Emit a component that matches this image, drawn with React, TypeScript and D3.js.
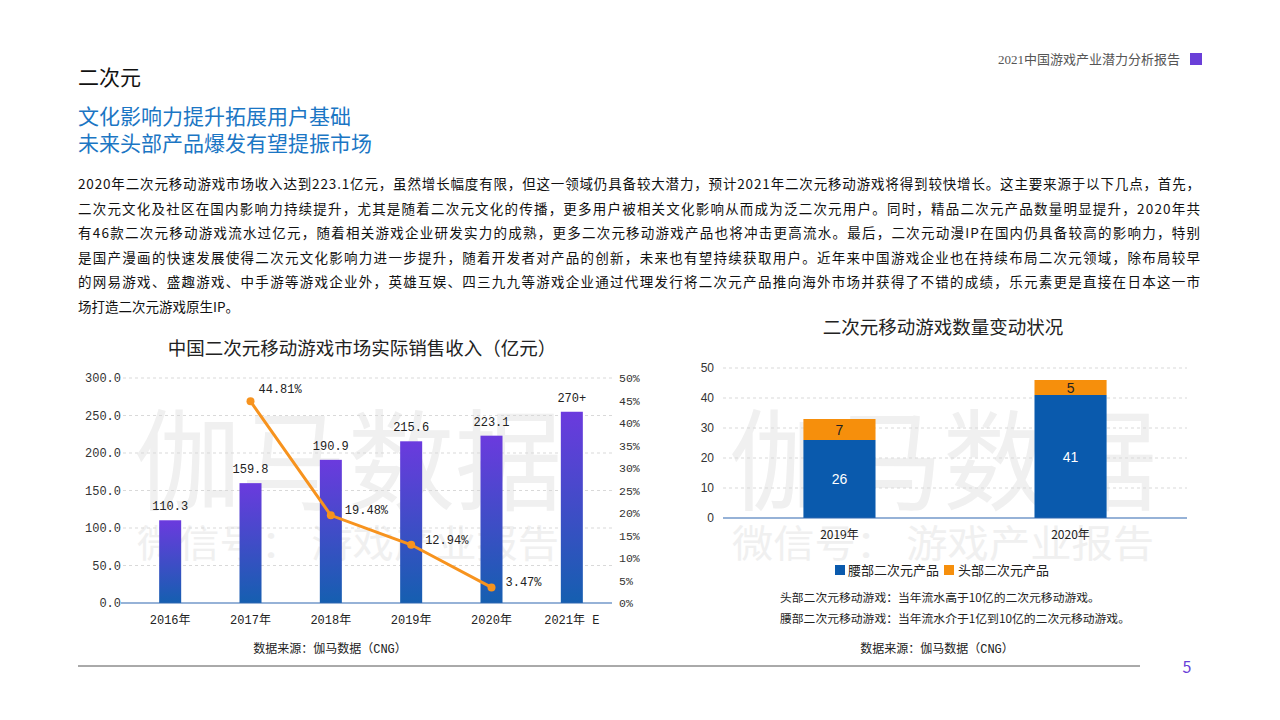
import React from "react";
import * as d3 from "d3";

const years = ["2016年", "2017年", "2018年", "2019年", "2020年", "2021年 E"];
const revenue = [110.3, 159.8, 190.9, 215.6, 223.1, 255];
const revenueLabels = ["110.3", "159.8", "190.9", "215.6", "223.1", "270+"];
const growthYears = ["2017年", "2018年", "2019年", "2020年"];
const growth = [0.4481, 0.1948, 0.1294, 0.0347];
const growthLabels = ["44.81%", "19.48%", "12.94%", "3.47%"];
const leftTicks = [0, 50, 100, 150, 200, 250, 300];
const rightTicks = [0, 0.05, 0.1, 0.15, 0.2, 0.25, 0.3, 0.35, 0.4, 0.45, 0.5];

const countYears = ["2019年", "2020年"];
const waistCounts = [26, 41];
const headCounts = [7, 5];
const countTicks = [0, 10, 20, 30, 40, 50];
const seriesNames = ["腰部二次元产品", "头部二次元产品"];

const paragraph = [
  "2020年二次元移动游戏市场收入达到223.1亿元，虽然增长幅度有限，但这一领域仍具备较大潜力，预计2021年二次元移动游戏将得到较快增长。这主要来源于以下几点，首先，",
  "二次元文化及社区在国内影响力持续提升，尤其是随着二次元文化的传播，更多用户被相关文化影响从而成为泛二次元用户。同时，精品二次元产品数量明显提升，2020年共",
  "有46款二次元移动游戏流水过亿元，随着相关游戏企业研发实力的成熟，更多二次元移动游戏产品也将冲击更高流水。最后，二次元动漫IP在国内仍具备较高的影响力，特别",
  "是国产漫画的快速发展使得二次元文化影响力进一步提升，随着开发者对产品的创新，未来也有望持续获取用户。近年来中国游戏企业也在持续布局二次元领域，除布局较早",
  "的网易游戏、盛趣游戏、中手游等游戏企业外，英雄互娱、四三九九等游戏企业通过代理发行将二次元产品推向海外市场并获得了不错的成绩，乐元素更是直接在日本这一市",
  "场打造二次元游戏原生IP。",
];

const CJK = "'Noto Sans CJK SC', 'Noto Sans', sans-serif";
const MONO = "'Liberation Mono', 'Noto Sans CJK SC', monospace";
const PURPLE = "#6a3fd8";
const ORANGE = "#f7931e";
const BLUE = "#0a5aad";
const ORANGE2 = "#f68f0c";

function Watermark({ x }: { x: number }) {
  return (
    <g fill="#f0f0f0" fontFamily={CJK}>
      <text x={x} y={502} fontSize={110} textAnchor="middle" textLength={428} lengthAdjust="spacingAndGlyphs">伽马数据</text>
      <text x={x} y={557} fontSize={38} textAnchor="middle" textLength={422} lengthAdjust="spacingAndGlyphs">微信号： 游戏产业报告</text>
    </g>
  );
}

function LeftChart() {
  const x = d3.scaleBand<string>().domain(years).range([119, 623]).paddingInner(0.726).paddingOuter(0.5);
  const y = d3.scaleLinear().domain([0, 300]).range([603, 378]);
  const y2 = d3.scaleLinear().domain([0, 0.5]).range([603, 378]);
  const cx = (k: string) => (x(k) as number) + x.bandwidth() / 2;
  const line = d3
    .line<number>()
    .x((_, i) => cx(growthYears[i]))
    .y((d) => y2(d));
  return (
    <g>
      <defs>
        <linearGradient id="barGrad" x1="0" y1="0" x2="0" y2="1">
          <stop offset="0%" stopColor="#6b3ade" />
          <stop offset="100%" stopColor="#155fb0" />
        </linearGradient>
      </defs>
      <text x={362} y={355} fontSize={18.5} fontFamily={CJK} textAnchor="middle" fill="#222">中国二次元移动游戏市场实际销售收入（亿元）</text>
      <Watermark x={348} />
      {leftTicks.filter((t) => t > 0).map((t) => (
        <line key={t} x1={123} x2={612} y1={y(t)} y2={y(t)} stroke="#d9d9d9" strokeDasharray="3,3" />
      ))}
      {leftTicks.map((t) => (
        <text key={t} x={121} y={y(t) + 4} fontSize={12} fontFamily={MONO} textAnchor="end" fill="#333">{t.toFixed(1)}</text>
      ))}
      {rightTicks.map((t) => (
        <text key={t} x={619} y={y2(t) + 4} fontSize={11.5} fontFamily={MONO} fill="#333">{Math.round(t * 100) + "%"}</text>
      ))}
      {years.map((k, i) => (
        <g key={k}>
          <rect x={x(k)} y={y(revenue[i])} width={x.bandwidth()} height={603 - y(revenue[i])} fill="url(#barGrad)" />
          <text x={cx(k)} y={y(revenue[i]) - 10} fontSize={12} fontFamily={MONO} textAnchor="middle" fill="#222">{revenueLabels[i]}</text>
          <text x={cx(k)} y={624} fontSize={12} fontFamily={MONO} textAnchor="middle" fill="#222">{k}</text>
        </g>
      ))}
      <line x1={121} x2={612} y1={603} y2={603} stroke="#2f67b0" strokeWidth={1.2} />
      <path d={line(growth) || ""} fill="none" stroke={ORANGE} strokeWidth={3} />
      {growth.map((g, i) => (
        <g key={i}>
          <circle cx={cx(growthYears[i])} cy={y2(g)} r={4} fill={ORANGE} />
          <text
            x={cx(growthYears[i]) + (i === 0 ? 8 : 14)}
            y={y2(g) + (i === 0 ? -8 : -1)}
            fontSize={12}
            fontFamily={MONO}
            fill="#222"
          >
            {growthLabels[i]}
          </text>
        </g>
      ))}
      <text x={330} y={653} fontSize={12} fontFamily={MONO} textAnchor="middle" fill="#222">数据来源：伽马数据（CNG）</text>
    </g>
  );
}

function RightChart() {
  const x = d3.scaleBand<string>().domain(countYears).range([723, 1187]).paddingInner(0.688).paddingOuter(0.348);
  const y = d3.scaleLinear().domain([0, 50]).range([518, 368]);
  const cx = (k: string) => (x(k) as number) + x.bandwidth() / 2;
  const SANS = "'Liberation Sans', Arial, 'Noto Sans CJK SC', sans-serif";
  return (
    <g>
      <text x={943} y={334} fontSize={18.5} fontFamily={CJK} textAnchor="middle" fill="#222">二次元移动游戏数量变动状况</text>
      <Watermark x={943} />
      {countTicks.filter((t) => t > 0).map((t) => (
        <line key={t} x1={723} x2={1187} y1={y(t)} y2={y(t)} stroke="#d9d9d9" strokeDasharray="3,3" />
      ))}
      {countTicks.map((t) => (
        <text key={t} x={714} y={y(t) + 4} fontSize={12} fontFamily={SANS} textAnchor="end" fill="#333">{t}</text>
      ))}
      {countYears.map((k, i) => {
        const w = waistCounts[i];
        const h = headCounts[i];
        return (
          <g key={k}>
            <rect x={x(k)} y={y(w)} width={x.bandwidth()} height={y(0) - y(w)} fill={BLUE} />
            <rect x={x(k)} y={y(w + h)} width={x.bandwidth()} height={y(w) - y(w + h)} fill={ORANGE2} />
            <text x={cx(k)} y={(y(0) + y(w)) / 2 + 5} fontSize={14} fontFamily={SANS} textAnchor="middle" fill="#fff">{w}</text>
            <text x={cx(k)} y={(y(w) + y(w + h)) / 2 + 5} fontSize={14} fontFamily={SANS} textAnchor="middle" fill="#222">{h}</text>
            <text x={cx(k)} y={539} fontSize={12} fontFamily={CJK} textAnchor="middle" fill="#222">{k}</text>
          </g>
        );
      })}
      <line x1={723} x2={1187} y1={518} y2={518} stroke="#2f67b0" strokeWidth={1.2} />
      <g fontFamily={CJK} fontSize={13} fill="#222">
        <rect x={835} y={565} width={10} height={10} fill={BLUE} />
        <text x={848} y={575}>{seriesNames[0]}</text>
        <rect x={944} y={565} width={10} height={10} fill={ORANGE2} />
        <text x={958} y={575}>{seriesNames[1]}</text>
      </g>
      <g fontFamily={CJK} fontSize={11.8} fill="#222">
        <text x={780} y={602}>头部二次元移动游戏：当年流水高于10亿的二次元移动游戏。</text>
        <text x={780} y={623}>腰部二次元移动游戏：当年流水介于1亿到10亿的二次元移动游戏。</text>
      </g>
      <text x={937} y={653} fontSize={12} fontFamily={MONO} textAnchor="middle" fill="#222">数据来源：伽马数据（CNG）</text>
    </g>
  );
}

export default function App() {
  return (
    <svg
      width={1280}
      height={720}
      viewBox="0 0 1280 720"
      style={{ position: "absolute", left: 0, top: 0, background: "#fff" }}
    >
      <rect width={1280} height={720} fill="#fff" />
      <text x={1180} y={64} fontSize={13} fontFamily="'Liberation Serif', 'Noto Sans CJK SC', serif" textAnchor="end" fill="#555">2021中国游戏产业潜力分析报告</text>
      <rect x={1190} y={53} width={12} height={12} fill={PURPLE} />
      <text x={78} y={85} fontSize={21} fontFamily={CJK} fill="#111">二次元</text>
      <text x={78} y={124} fontSize={21} fontFamily={CJK} fill="#1b76c4">文化影响力提升拓展用户基础</text>
      <text x={78} y={151} fontSize={21} fontFamily={CJK} fill="#1b76c4">未来头部产品爆发有望提振市场</text>
      <g fontSize={13.5} fontFamily={CJK} fill="#111">
        {paragraph.map((line, i) => (
          <text
            key={i}
            x={78}
            y={189 + i * 24.5}
            textLength={i < paragraph.length - 1 ? 1122 : undefined}
            lengthAdjust="spacing"
          >
            {line}
          </text>
        ))}
      </g>
      <LeftChart />
      <RightChart />
      <line x1={78} x2={1140} y1={666} y2={666} stroke="#555" strokeWidth={1} />
      <text x={1187} y={673} fontSize={16} fontFamily={CJK} textAnchor="middle" fill={PURPLE}>5</text>
    </svg>
  );
}
